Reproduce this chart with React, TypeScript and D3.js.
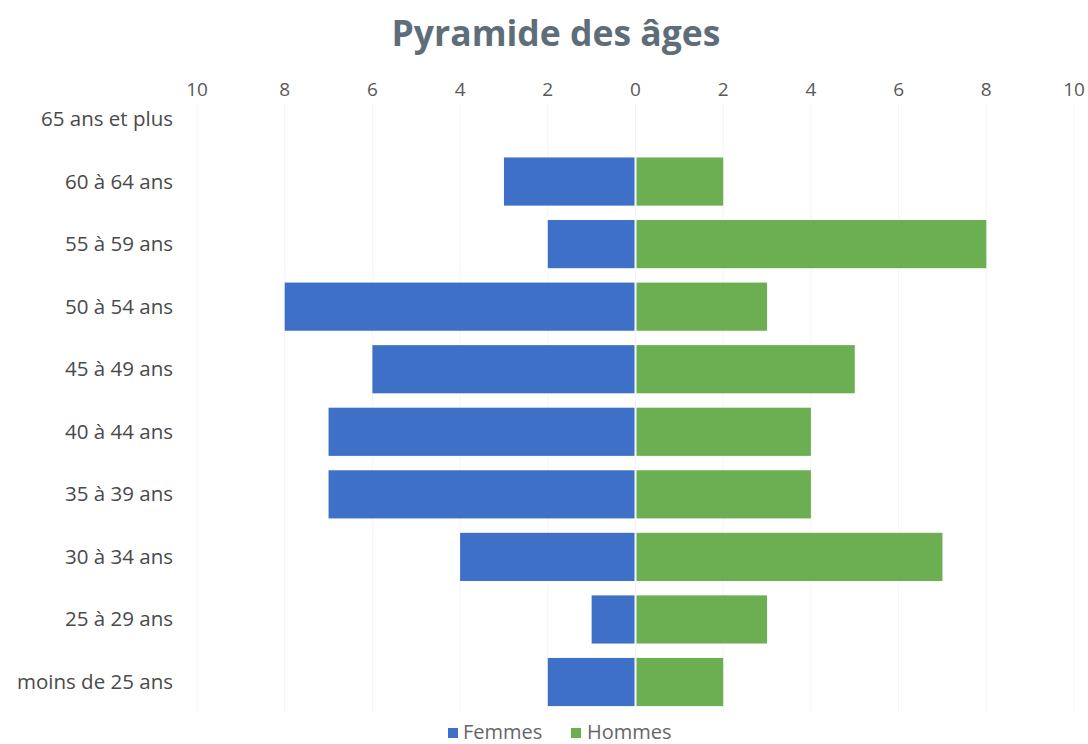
import React from "react";
import * as d3 from "d3";

const categories = [
  "65 ans et plus",
  "60 à 64 ans",
  "55 à 59 ans",
  "50 à 54 ans",
  "45 à 49 ans",
  "40 à 44 ans",
  "35 à 39 ans",
  "30 à 34 ans",
  "25 à 29 ans",
  "moins de 25 ans",
];
const femmes = [0, 3, 2, 8, 6, 7, 7, 4, 1, 2];
const hommes = [0, 2, 8, 3, 5, 4, 4, 7, 3, 2];
const tickValues = [-10, -8, -6, -4, -2, 0, 2, 4, 6, 8, 10];

const W = 1088;
const H = 744;
const FONT = "'Open Sans', 'Liberation Sans', sans-serif";
const BLUE = "#3d70c6";
const GREEN = "#6cae52";

export default function App() {
  const x = d3.scaleLinear().domain([-10, 10]).range([197, 1074]);
  const y = d3
    .scaleBand<string>()
    .domain(categories)
    .range([87.7, 713.3])
    .paddingInner(0.23)
    .paddingOuter(0.115);
  const bw = y.bandwidth();

  return (
    <svg
      width={W}
      height={H}
      style={{ position: "absolute", left: 0, top: 0, background: "#fff" }}
      fontFamily={FONT}
    >
      <text
        x={556}
        y={46}
        textAnchor="middle"
        fontSize={35.5}
        fontWeight="bold"
        fill="#5d6d79"
      >
        Pyramide des âges
      </text>

      {tickValues.map((t) => (
        <g key={t}>
          <line
            x1={x(t)}
            x2={x(t)}
            y1={104}
            y2={713}
            stroke="#f4f4f4"
            strokeWidth={1}
          />
          <text
            x={x(t)}
            y={96}
            textAnchor="middle"
            fontSize={19}
            fill="#595959"
          >
            {Math.abs(t)}
          </text>
        </g>
      ))}

      {categories.map((c, i) => {
        const y0 = y(c)!;
        return (
          <g key={c}>
            {femmes[i] > 0 && (
              <rect
                x={x(-femmes[i])}
                y={y0}
                width={x(0) - x(-femmes[i]) - 1}
                height={bw}
                fill={BLUE}
              />
            )}
            {hommes[i] > 0 && (
              <rect
                x={x(0) + 1}
                y={y0}
                width={x(hommes[i]) - x(0) - 1}
                height={bw}
                fill={GREEN}
              />
            )}
            <text
              x={173}
              y={y0 + bw / 2 + 7}
              textAnchor="end"
              fontSize={20.5}
              fill="#4a4a4a"
            >
              {c}
            </text>
          </g>
        );
      })}

      <g>
        <rect x={448} y={728} width={10} height={10} fill={BLUE} />
        <text x={463} y={739} fontSize={20} fill="#666">
          Femmes
        </text>
        <rect x={571} y={728} width={10} height={10} fill={GREEN} />
        <text x={587} y={739} fontSize={20} fill="#666">
          Hommes
        </text>
      </g>
    </svg>
  );
}
